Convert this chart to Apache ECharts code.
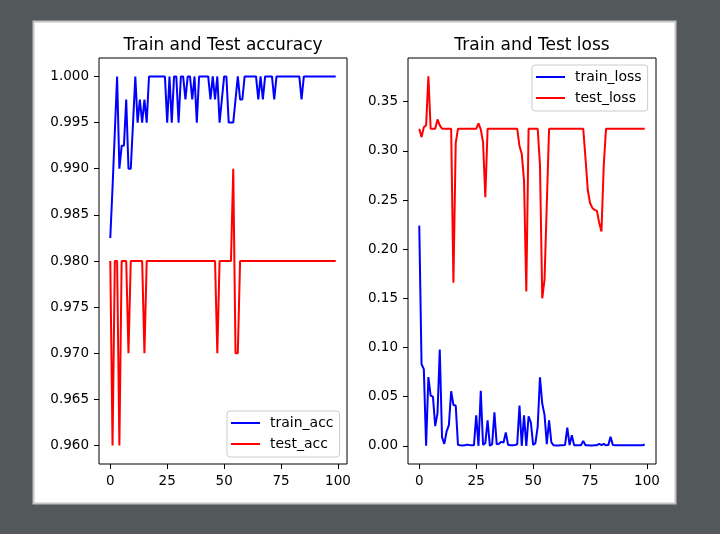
<!DOCTYPE html>
<html>
<head>
<meta charset="utf-8">
<script src="https://cdn.jsdelivr.net/npm/echarts@6/dist/echarts.min.js"></script>
<style>
html,body{margin:0;padding:0;background:#53585b;}
#chart{width:720px;height:534px;}
</style>
</head>
<body>
<div id="chart"></div>
<script>
const epochs = [0,1,2,3,4,5,6,7,8,9,10,11,12,13,14,15,16,17,18,19,20,21,22,23,24,25,26,27,28,29,30,31,32,33,34,35,36,37,38,39,40,41,42,43,44,45,46,47,48,49,50,51,52,53,54,55,56,57,58,59,60,61,62,63,64,65,66,67,68,69,70,71,72,73,74,75,76,77,78,79,80,81,82,83,84,85,86,87,88,89,90,91,92,93,94,95,96,97,98,99];

const trainAcc = [
0.9825,0.988,0.994,1.0,0.99,0.9925,0.9925,0.9975,0.99,0.99,
0.995,1.0,0.995,0.9975,0.995,0.9975,0.995,1.0,1.0,1.0,
1.0,1.0,1.0,1.0,1.0,0.995,1.0,0.995,1.0,1.0,
0.995,1.0,1.0,0.9975,1.0,1.0,0.9975,1.0,0.995,1.0,
1.0,1.0,1.0,1.0,0.9975,1.0,0.9975,1.0,0.995,0.9975,
1.0,1.0,0.995,0.995,0.995,0.9975,1.0,0.9975,0.9975,1.0,
1.0,1.0,1.0,1.0,1.0,0.9975,1.0,0.9975,1.0,1.0,
1.0,1.0,0.9975,1.0,1.0,1.0,1.0,1.0,1.0,1.0,
1.0,1.0,1.0,1.0,0.9975,1.0,1.0,1.0,1.0,1.0,
1.0,1.0,1.0,1.0,1.0,1.0,1.0,1.0,1.0,1.0];

const testAcc = [
0.98,0.96,0.98,0.98,0.96,0.98,0.98,0.98,0.97,0.98,
0.98,0.98,0.98,0.98,0.98,0.97,0.98,0.98,0.98,0.98,
0.98,0.98,0.98,0.98,0.98,0.98,0.98,0.98,0.98,0.98,
0.98,0.98,0.98,0.98,0.98,0.98,0.98,0.98,0.98,0.98,
0.98,0.98,0.98,0.98,0.98,0.98,0.98,0.97,0.98,0.98,
0.98,0.98,0.98,0.98,0.99,0.97,0.97,0.98,0.98,0.98,
0.98,0.98,0.98,0.98,0.98,0.98,0.98,0.98,0.98,0.98,
0.98,0.98,0.98,0.98,0.98,0.98,0.98,0.98,0.98,0.98,
0.98,0.98,0.98,0.98,0.98,0.98,0.98,0.98,0.98,0.98,
0.98,0.98,0.98,0.98,0.98,0.98,0.98,0.98,0.98,0.98];

const trainLoss = [
0.224,0.083,0.078,0.000,0.070,0.051,0.050,0.020,0.033,0.098,
0.0085,0.002,0.0146,0.021,0.0555,0.0416,0.041,0.001,0.0005,0.0003,
0.0005,0.0012,0.0008,0.0005,0.0005,0.031,0.000,0.056,0.001,0.0027,
0.026,0.000,0.0017,0.034,0.0017,0.002,0.004,0.0034,0.0135,0.001,
0.0005,0.0005,0.0008,0.0015,0.041,0.000,0.031,0.000,0.030,0.0237,
0.001,0.0027,0.0196,0.0697,0.043,0.0315,0.0017,0.026,0.0034,0.0005,
0.0004,0.0004,0.0005,0.0006,0.0008,0.0186,0.0007,0.0108,0.0007,0.0007,
0.0005,0.0006,0.005,0.0006,0.0005,0.0004,0.0004,0.0005,0.0006,0.002,
0.0008,0.002,0.0005,0.0007,0.0091,0.0008,0.0005,0.0005,0.0005,0.0005,
0.0005,0.0005,0.0005,0.0005,0.0005,0.0005,0.0005,0.0005,0.0006,0.0013];

const testLoss = [
0.3225,0.314,0.324,0.326,0.376,0.3225,0.3225,0.3225,0.332,0.326,
0.3225,0.3225,0.3225,0.3225,0.3225,0.166,0.308,0.3225,0.3225,0.3225,
0.3225,0.3225,0.3225,0.3225,0.3225,0.3225,0.328,0.322,0.309,0.253,
0.3225,0.3225,0.3225,0.3225,0.3225,0.3225,0.3225,0.3225,0.3225,0.3225,
0.3225,0.3225,0.3225,0.3225,0.305,0.297,0.27,0.157,0.3225,0.3225,
0.3225,0.3225,0.3225,0.286,0.150,0.169,0.246,0.3225,0.3225,0.3225,
0.3225,0.3225,0.3225,0.3225,0.3225,0.3225,0.3225,0.3225,0.3225,0.3225,
0.3225,0.3225,0.3225,0.292,0.260,0.247,0.242,0.240,0.239,0.227,
0.218,0.285,0.3225,0.3225,0.3225,0.3225,0.3225,0.3225,0.3225,0.3225,
0.3225,0.3225,0.3225,0.3225,0.3225,0.3225,0.3225,0.3225,0.3225,0.3225];

const xTicks = [0,25,50,75,100];
const accTicks = [0.960,0.965,0.970,0.975,0.980,0.985,0.990,0.995,1.000];
const lossTicks = [0.00,0.05,0.10,0.15,0.20,0.25,0.30,0.35];
const titles = ['Train and Test accuracy','Train and Test loss'];

const FONT = 'DejaVu Sans';
const pairs = arr => arr.map((v,i) => [epochs[i], v]);

function xAxisCfg(gi){
  return {
    type:'value', gridIndex:gi, min:-4.95, max:103.95,
    splitLine:{show:false},
    axisLine:{show:false, onZero:false},
    axisTick:{show:true, customValues:xTicks, length:5, lineStyle:{color:'#000', width:1}},
    axisLabel:{customValues:xTicks, color:'#000', fontSize:13.5, fontFamily:FONT, margin:10,
      formatter:v=>String(v)}
  };
}
function yAxisCfg(gi, min, max, ticks, dec){
  return {
    type:'value', gridIndex:gi, min:min, max:max, scale:true,
    splitLine:{show:false},
    axisLine:{show:false, onZero:false},
    axisTick:{show:true, customValues:ticks, length:5, lineStyle:{color:'#000', width:1}},
    axisLabel:{customValues:ticks, color:'#000', fontSize:13.5, fontFamily:FONT, margin:10,
      formatter:v=>Number(v).toFixed(dec)}
  };
}
function legendCfg(names, left, top){
  return {
    data:names, orient:'vertical', left:left, top:top,
    icon:'rect', itemWidth:29, itemHeight:2, itemGap:5,
    padding:[4,6,5,4],
    borderColor:'#cccccc', borderWidth:1, borderRadius:3,
    backgroundColor:'rgba(255,255,255,0.8)',
    selectedMode:false,
    textStyle:{color:'#000', fontSize:14, fontFamily:FONT, lineHeight:16, padding:[0,0,0,5]}
  };
}
function lineSeries(name, data, color, gi){
  return {
    name:name, type:'line', data:pairs(data), xAxisIndex:gi, yAxisIndex:gi,
    symbol:'none', showSymbol:false, smooth:false,
    lineStyle:{color:color, width:2}, itemStyle:{color:color},
    emphasis:{disabled:true}
  };
}

const chart = echarts.init(document.getElementById('chart'), null, {renderer:'canvas'});
chart.setOption({
  animation:false,
  backgroundColor:'#53585b',
  graphic:[{
    type:'rect', z:-10, silent:true,
    shape:{x:33.5, y:21.5, width:642, height:482},
    style:{fill:'#ffffff', stroke:'#c4c4c4', lineWidth:2}
  }],
  title:[
    {text:titles[0], left:223, top:37, textAlign:'center', padding:0,
     textStyle:{fontFamily:FONT, fontSize:17, fontWeight:'normal', color:'#000', lineHeight:17}},
    {text:titles[1], left:532, top:37, textAlign:'center', padding:0,
     textStyle:{fontFamily:FONT, fontSize:17, fontWeight:'normal', color:'#000', lineHeight:17}}
  ],
  grid:[
    {left:99, top:58, width:248, height:406, show:true, borderColor:'#000', borderWidth:1, backgroundColor:'#fff', containLabel:false},
    {left:408, top:58, width:248, height:406, show:true, borderColor:'#000', borderWidth:1, backgroundColor:'#fff', containLabel:false}
  ],
  xAxis:[xAxisCfg(0), xAxisCfg(1)],
  yAxis:[yAxisCfg(0, 0.958, 1.002, accTicks, 3), yAxisCfg(1, -0.0185, 0.3945, lossTicks, 2)],
  legend:[legendCfg(['train_acc','test_acc'], 227, 411), legendCfg(['train_loss','test_loss'], 532, 65)],
  series:[
    lineSeries('train_acc', trainAcc, '#0000ff', 0),
    lineSeries('test_acc', testAcc, '#ff0000', 0),
    lineSeries('train_loss', trainLoss, '#0000ff', 1),
    lineSeries('test_loss', testLoss, '#ff0000', 1)
  ]
});
</script>
</body>
</html>
